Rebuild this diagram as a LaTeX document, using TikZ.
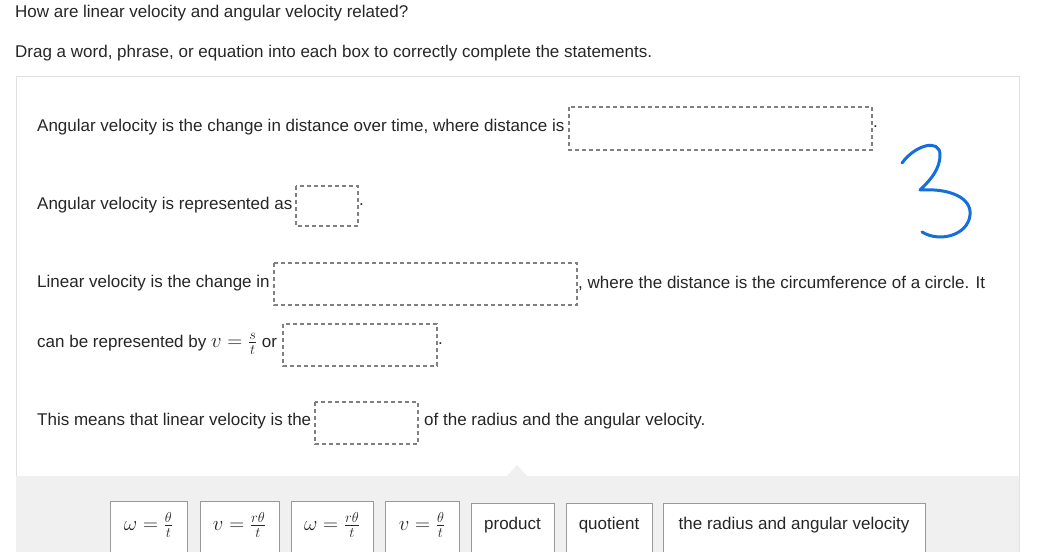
\documentclass[tikz,border=0pt]{standalone}
\usepackage{fontspec}
\setmainfont{Liberation Sans}
\begin{document}
\begin{tikzpicture}[x=1pt,y=-1pt,
 txt/.style={anchor=west,inner sep=0pt,font=\fontsize{17}{20}\selectfont,text=black!85},
 slot/.style={draw=black!50,line width=1.3pt,dash pattern=on 4pt off 3pt},
 tile/.style={draw=black!40,fill=white,line width=0.7pt},
 tl/.style={font=\fontsize{17}{20}\selectfont,text=black!85,inner sep=0pt},
 tm/.style={font=\fontsize{21}{24}\selectfont,text=black!85,inner sep=0pt}]
\useasboundingbox (0,0) rectangle (1043,551);
\node[txt] (q) at (15,13) {How are linear velocity and angular velocity related?};
\node[txt] (d) at (15,53) {Drag a word, phrase, or equation into each box to correctly complete the statements.};
\draw[draw=black!12,fill=white] (16,76) rectangle (1019,560);
\fill[black!6] (16,476) -- (507,476) -- (517,465) -- (527,476) -- (1019,476) -- (1019,560) -- (16,560) -- cycle;
\node[txt] (l1) at (37,127) {Angular velocity is the change in distance over time, where distance is};
\draw[slot] (569,107) rectangle (872,150);
\node[txt] at (873,127) {.};
\node[txt] (l2) at (37,205) {Angular velocity is represented as};
\draw[slot] (296,186) rectangle (358,226);
\node[txt] at (359,205) {.};
\node[txt] (l3) at (37,283) {Linear velocity is the change in};
\draw[slot] (274,263) rectangle (577,305);
\node[txt] at (578,283) {, where the distance is the circumference of a circle. It};
\node[txt] (l4) at (37,344) {can be represented by {\fontsize{20}{22}\selectfont$v=\frac{s}{t}$} or};
\draw[slot] (283,324) rectangle (437,366);
\node[txt] at (438,344) {.};
\node[txt] (l5) at (37,421) {This means that linear velocity is the};
\draw[slot] (315,402) rectangle (418,444);
\node[txt] at (424,421) {of the radius and the angular velocity.};
\draw[color={rgb,255:red,20;green,110;blue,220},line width=3pt,line cap=round,line join=round]
 (902,163) .. controls (915,145) and (940,138) .. (940,155)
 .. controls (940,172) and (925,185) .. (920,190)
 .. controls (950,188) and (972,198) .. (970,215)
 .. controls (968,235) and (940,243) .. (922,232);
\foreach \a/\b/\t/\c/\s [count=\i] in {110/187/{$\omega=\frac{\theta}{t}$}/501/tm, 200/279/{$v=\frac{r\theta}{t}$}/501/tm, 291/373/{$\omega=\frac{r\theta}{t}$}/501/tm, 385/459/{$v=\frac{\theta}{t}$}/501/tm, 471/554/{product}/503/tl, 566/652/{quotient}/503/tl, 663/925/{the radius and angular velocity}/503/tl}{
 \draw[tile] (\a,560) |- (\b,\c) -- (\b,560);
 \node[\s] (t\i) at ({(\a+\b)/2},525) {\t};
}
\end{tikzpicture}
\end{document}
